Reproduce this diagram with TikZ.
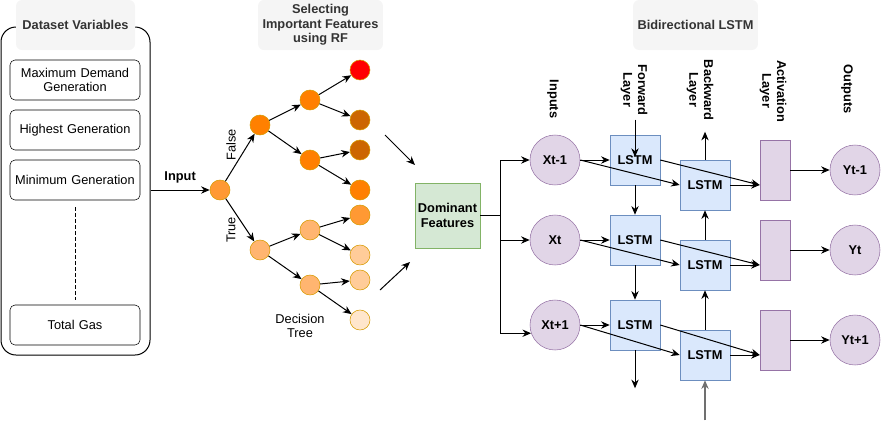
\documentclass[tikz,border=0pt]{standalone}
\usepackage{fontspec}
\setmainfont{Liberation Sans}
\usetikzlibrary{positioning,arrows.meta,calc}

\newlength{\du}
\setlength{\du}{0.75pt}
\newcommand{\lbl}{\fontsize{9.6pt}{11pt}\selectfont}

\definecolor{titlefill}{HTML}{F5F5F5}
\definecolor{titletext}{HTML}{333333}
\definecolor{treeline}{HTML}{D79B00}
\definecolor{lstmfill}{HTML}{DAE8FC}
\definecolor{lstmline}{HTML}{6C8EBF}
\definecolor{actfill}{HTML}{E1D5E7}
\definecolor{actline}{HTML}{9673A6}
\definecolor{domfill}{HTML}{D5E8D4}
\definecolor{domline}{HTML}{82B366}
\definecolor{grayline}{HTML}{707070}
\definecolor{leafred}{HTML}{FF0000}
\definecolor{leafbrown}{HTML}{CC6600}
\definecolor{leafdark}{HTML}{FF8000}
\definecolor{leafmid}{HTML}{FF9933}
\definecolor{leaflight}{HTML}{FFB570}
\definecolor{leafpale}{HTML}{FFCC99}
\definecolor{leafwhite}{HTML}{FFE6CC}

\tikzset{
  titlebox/.style={fill=titlefill,rounded corners=6\du,text=titletext,
    font=\lbl\bfseries,align=center,minimum width=119\du,minimum height=50\du},
  varbox/.style={draw,rounded corners=5\du,minimum width=130\du,
    minimum height=40\du,text width=126\du,align=center,inner sep=1pt},
  tnode/.style={circle,draw=treeline,fill=#1,minimum size=20\du,inner sep=0pt},
  lstmbox/.style={draw=lstmline,fill=lstmfill,minimum size=50\du,font=\lbl\bfseries},
  actbox/.style={draw=actline,fill=actfill,minimum width=30\du,minimum height=60\du},
  unit/.style={circle,draw=actline,fill=actfill,minimum size=50\du,inner sep=0pt,
    font=\lbl\bfseries},
  collabel/.style={rotate=-90,font=\lbl\bfseries,align=center},
  arr/.style={-{Stealth[length=6.5pt,width=5.5pt]},line width=0.75pt},
  plain/.style={line width=0.75pt}
}

\begin{document}
\begin{tikzpicture}[x=\du,y=-\du,font=\lbl]
\useasboundingbox (0,0) rectangle (881,429);

% dataset variables
\node[draw,rounded corners=15\du,line width=0.75pt,minimum width=149\du,
  minimum height=328\du] (panel) at (75.5,191) {};
\node[titlebox] (vartitle) at (75.5,25) {Dataset Variables};
\node[varbox] (maxdem) at (75,80) {Maximum Demand\\Generation};
\node[varbox] (highgen) at (75,130) {Highest Generation};
\node[varbox] (mingen) at (75,180) {Minimum Generation};
\node[varbox] (totgas) at (75,325) {Total Gas};
\draw[dash pattern=on 2.5pt off 2pt,line width=0.75pt] (mingen.south) ++(0,7) coordinate (dtop)
  -- ($(totgas.north)+(0,-5)$) coordinate (dbot);

% random forest tree
\node[titlebox] (rftitle) at (320.5,25) {Selecting\\Important Features\\using RF};
\node[tnode=leafmid] (r) at (220,190) {};
\node[tnode=leafdark] (f) at (260,125) {};
\node[tnode=leaflight] (t) at (260,250) {};
\node[tnode=leafdark] (ff) at (310,100) {};
\node[tnode=leafdark] (ft) at (310,160) {};
\node[tnode=leaflight] (tf) at (310,230) {};
\node[tnode=leaflight] (tt) at (310,285) {};
\node[tnode=leafred] (l1) at (360,70) {};
\node[tnode=leafbrown] (l2) at (360,120) {};
\node[tnode=leafbrown] (l3) at (360,150) {};
\node[tnode=leafdark] (l4) at (360,190) {};
\node[tnode=leafmid] (l5) at (360,215) {};
\node[tnode=leafpale] (l6) at (360,255) {};
\node[tnode=leafpale] (l7) at (360,280) {};
\node[tnode=leafwhite] (l8) at (360,320) {};
\draw[arr] (r) -- (f);
\draw[arr] (r) -- (t);
\draw[arr] (f) -- (ff);
\draw[arr] (f) -- (ft);
\draw[arr] (t) -- (tf);
\draw[arr] (t) -- (tt);
\foreach \a/\b in {ff/l1,ff/l2,ft/l3,ft/l4,tf/l5,tf/l6,tt/l7,tt/l8}
  \draw[arr] (\a) -- (\b);
\node[rotate=90] (falselbl) at (231,145) {False};
\node[rotate=90] (truelbl) at (231,230) {True};
\node[align=center] (dtree) at (300,326) {Decision\\Tree};
\draw[arr] (r -| panel.east) -- node[above=2\du,font=\lbl\bfseries] (inlbl) {Input} (r);

% dominant features
\node[draw=domline,fill=domfill,minimum size=65\du,inner sep=0pt,align=center,
  font=\lbl\bfseries] (dom) at (447.5,215.5) {Dominant\\Features};
\coordinate (in1) at (385,135);
\coordinate (in2) at (380,290);
\draw[arr] (in1) -- (415,165) coordinate (in1end);
\draw[arr] (in2) -- (410,262) coordinate (in2end);

% bidirectional lstm
\node[titlebox] (lstmtitle) at (695.5,25) {Bidirectional LSTM};
\node[collabel] (inlabel) at (553,99) {Inputs};
\node[collabel] (fwlabel) at (634,90) {Forward\\Layer};
\node[collabel] (bwlabel) at (700,90) {Backward\\Layer};
\node[collabel] (aclabel) at (773,91) {Activation\\Layer};
\node[collabel] (outlabel) at (847,89) {Outputs};

\node[unit] (x1) at (555,160) {Xt-1};
\node[unit] (x2) at (555,240) {Xt};
\node[unit] (x3) at (555,325) {Xt+1};
\node[lstmbox] (fw1) at (635,160) {LSTM};
\node[lstmbox] (fw2) at (635,240) {LSTM};
\node[lstmbox] (fw3) at (635,325) {LSTM};
\node[lstmbox] (bw1) at (705,185) {LSTM};
\node[lstmbox] (bw2) at (705,265) {LSTM};
\node[lstmbox] (bw3) at (705,355) {LSTM};
\node[actbox] (ac1) at (775,170) {};
\node[actbox] (ac2) at (775,250) {};
\node[actbox] (ac3) at (775,340) {};
\node[unit] (y1) at (855,170) {Yt-1};
\node[unit] (y2) at (855,250) {Yt};
\node[unit] (y3) at (855,340) {Yt+1};

\draw[plain] (dom.east) -- ++(20,0) coordinate (split);
\draw[arr] (split) |- (x1);
\draw[arr] (split) |- (x2);
\draw[arr] (split) |- (x3.199);

\foreach \n in {1,2,3} {
  \draw[arr] (x\n.east) -- (fw\n.west);
  \draw[arr] (x\n.east) -- (bw\n.west);
  \draw[arr] (fw\n.east) -- (ac\n.west |- bw\n);
  \draw[arr] (bw\n.east) -- (ac\n.west |- bw\n);
  \draw[arr] (ac\n) -- (y\n);
}
\draw[arr] (fw1.north) ++(0,-15) coordinate (fwtop) -- ($(fw1.center)+(0,-3)$);
\draw[arr] (fw1) -- (fw2);
\draw[arr] (fw2) -- (fw3);
\draw[arr] (fw3.south) -- ++(0,38) coordinate (fwend);
\draw[arr,grayline,line width=1.1pt] (bw3.south) ++(0,40) coordinate (bwstart) -- (bw3.south);
\draw[arr] (bw3) -- (bw2);
\draw[arr] (bw2) -- (bw1);
\draw[arr] (bw1.north) -- ++(0,-28) coordinate (bwend);
\end{tikzpicture}
\end{document}
